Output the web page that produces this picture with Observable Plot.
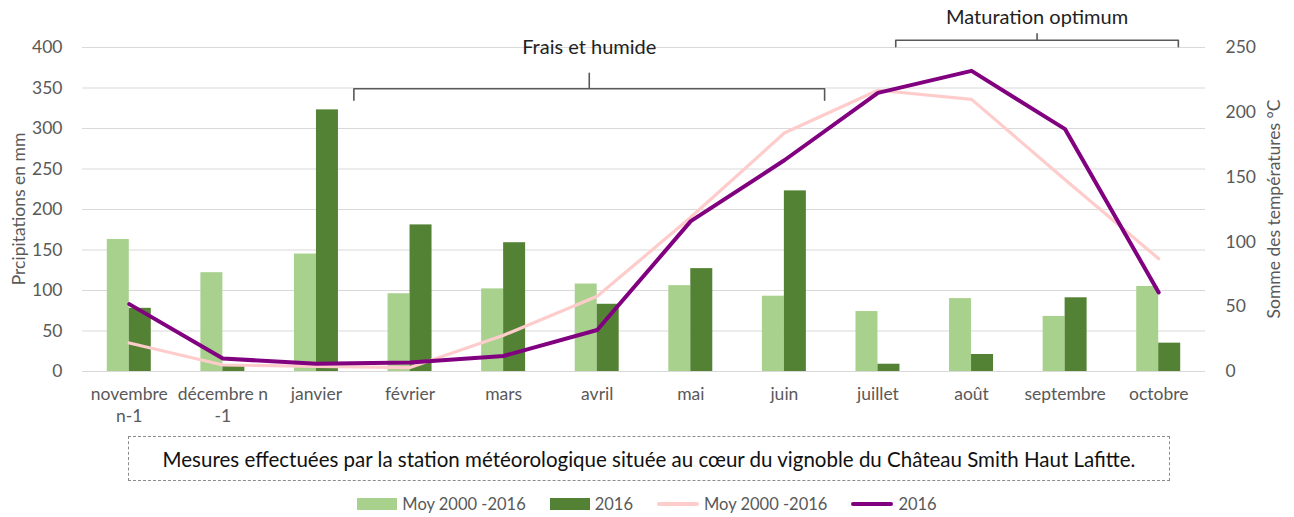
<!DOCTYPE html>
<html><head><meta charset="utf-8">
<script src="https://cdn.jsdelivr.net/npm/d3@7"></script>
<script src="https://cdn.jsdelivr.net/npm/@observablehq/plot@0.6"></script>
<style>
body{margin:0;background:#fff;font-family:Lato,"Open Sans",sans-serif;}
#wrap{position:relative;width:1294px;height:517px;}
#box{position:absolute;left:128px;top:436px;width:1042px;height:45px;border:1px dashed #8c8c8c;box-sizing:border-box;display:flex;align-items:center;justify-content:center;font-size:20.5px;color:#111;}
#legend{position:absolute;left:0;top:494px;width:1294px;display:flex;justify-content:center;font-size:16.5px;color:#595959;}
.it{display:flex;align-items:center;margin:0 12px;}
.sw{display:inline-block;width:40px;height:12px;margin-right:5px;}
.ln{display:inline-block;width:42px;height:4px;margin-right:5px;border-radius:2px;}
</style></head>
<body><div id="wrap"><div id="chart"></div>
<div id="box"></div>
<div id="legend"></div></div>
<script>
const months = ["novembre\nn-1","décembre n\n-1","janvier","février","mars","avril","mai","juin","juillet","août","septembre","octobre"];
const rainMoy  = [163,122,145,96,102,108,106,93,74,90,68,105];
const rain2016 = [78,7,323,181,159,83,127,223,9,21,91,35];
const tempMoy  = [22,5,4,3,28,58,119,184,217,210,148,87];
const temp2016 = [52,10,6,7,12,32,116,163,215,232,187,61];
const leftTicks = [0,50,100,150,200,250,300,350,400];
const rightTicks = [0,50,100,150,200,250];
const seriesNames = ["Moy 2000 -2016","2016"];
const axisTitles = ["Prcipitations en mm","Somme des températures °C"];
const colors = {barMoy:"#a9d18e", bar2016:"#548235", lineMoy:"#ffcccc", line2016:"#800080"};
const caption = "Mesures effectuées par la station météorologique située au cœur du vignoble du Château Smith Haut Lafitte.";
// annotations: brace spans (in month index units) and heights (left-axis units)
const braces = [
  {label:"Frais et humide", x1:2.40, x2:7.43, yEnd:335, yTop:349, yPeak:368, yText:400},
  {label:"Maturation optimum", x1:8.19, x2:11.21, yEnd:401, yTop:409, yPeak:417, yText:437}
];

const W = 1294, H = 432, mL = 82, mR = 89, mT = 47, mB = 61;
const ratio = 400/250;
const idx = d3.range(months.length);
const barW = 0.235;
const bars = idx.flatMap(i => [
  {x1:i-barW, x2:i, v:rainMoy[i], c:colors.barMoy},
  {x1:i, x2:i+barW, v:rain2016[i], c:colors.bar2016}
]);
const lineMoy = idx.map(i => ({x:i, y:tempMoy[i]*ratio}));
const line2016 = idx.map(i => ({x:i, y:temp2016[i]*ratio}));
const bracePts = braces.flatMap((b,k) => {
  const m = (b.x1+b.x2)/2;
  return [[b.x1,b.yEnd],[b.x1,b.yTop],[m,b.yTop],[m,b.yPeak],[m,b.yTop],[b.x2,b.yTop],[b.x2,b.yEnd]].map(p=>({x:p[0],y:p[1],k}));
});

const chart = Plot.plot({
  width:W, height:H,
  marginLeft:mL, marginRight:mR, marginTop:mT, marginBottom:mB,
  style:{fontFamily:"Lato, 'Open Sans', sans-serif", fontSize:"17px", color:"#595959", background:"#fff"},
  x:{type:"linear", domain:[-0.5,11.5]},
  y:{domain:[0,400]},
  marks:[
    Plot.ruleY(leftTicks, {stroke:"#d9d9d9", strokeWidth:1.2}),
    Plot.rectY(bars, {x1:"x1", x2:"x2", y1:0, y2:"v", fill:"c"}),
    Plot.line(lineMoy, {x:"x", y:"y", stroke:colors.lineMoy, strokeWidth:3.2, strokeLinejoin:"round"}),
    Plot.line(line2016, {x:"x", y:"y", stroke:colors.line2016, strokeWidth:4, strokeLinejoin:"round"}),
    Plot.line(bracePts, {x:"x", y:"y", z:"k", stroke:"#595959", strokeWidth:1.6}),
    Plot.text(braces, {x:d=>(d.x1+d.x2)/2, y:"yText", text:"label", fill:"#222", fontSize:20}),
    Plot.axisX(idx, {tickSize:0, tickPadding:12.5, tickFormat:i=>months[i], fontSize:17.5, fill:"#595959", lineHeight:1.28, label:null}),
    Plot.axisY(leftTicks, {anchor:"left", tickSize:0, tickPadding:20, fontSize:17.5, fill:"#595959", label:null}),
    Plot.axisY(rightTicks.map(v=>v*ratio), {anchor:"right", tickSize:0, tickPadding:20, tickFormat:v=>Math.round(v/ratio), fontSize:17.5, fill:"#595959", label:null})
  ]
});
const svg = d3.select(chart);
const cy = (mT + (H - mB)) / 2;
[[axisTitles[0], 18],[axisTitles[1], W - 21]].forEach(([t, x]) => {
  svg.append("text").attr("transform", `translate(${x},${cy}) rotate(-90)`)
    .attr("text-anchor","middle").attr("dominant-baseline","central")
    .attr("font-size","17.5px").attr("fill","#595959").text(t);
});
document.getElementById("chart").appendChild(chart);
document.getElementById("box").textContent = caption;
const leg = document.getElementById("legend");
[[seriesNames[0],colors.barMoy,"sw"],[seriesNames[1],colors.bar2016,"sw"],[seriesNames[0],colors.lineMoy,"ln"],[seriesNames[1],colors.line2016,"ln"]].forEach(([t,c,cls])=>{
  const it=document.createElement("div"); it.className="it";
  const s=document.createElement("span"); s.className=cls; s.style.background=c;
  it.appendChild(s); it.appendChild(document.createTextNode(t)); leg.appendChild(it);
});
</script></body></html>
